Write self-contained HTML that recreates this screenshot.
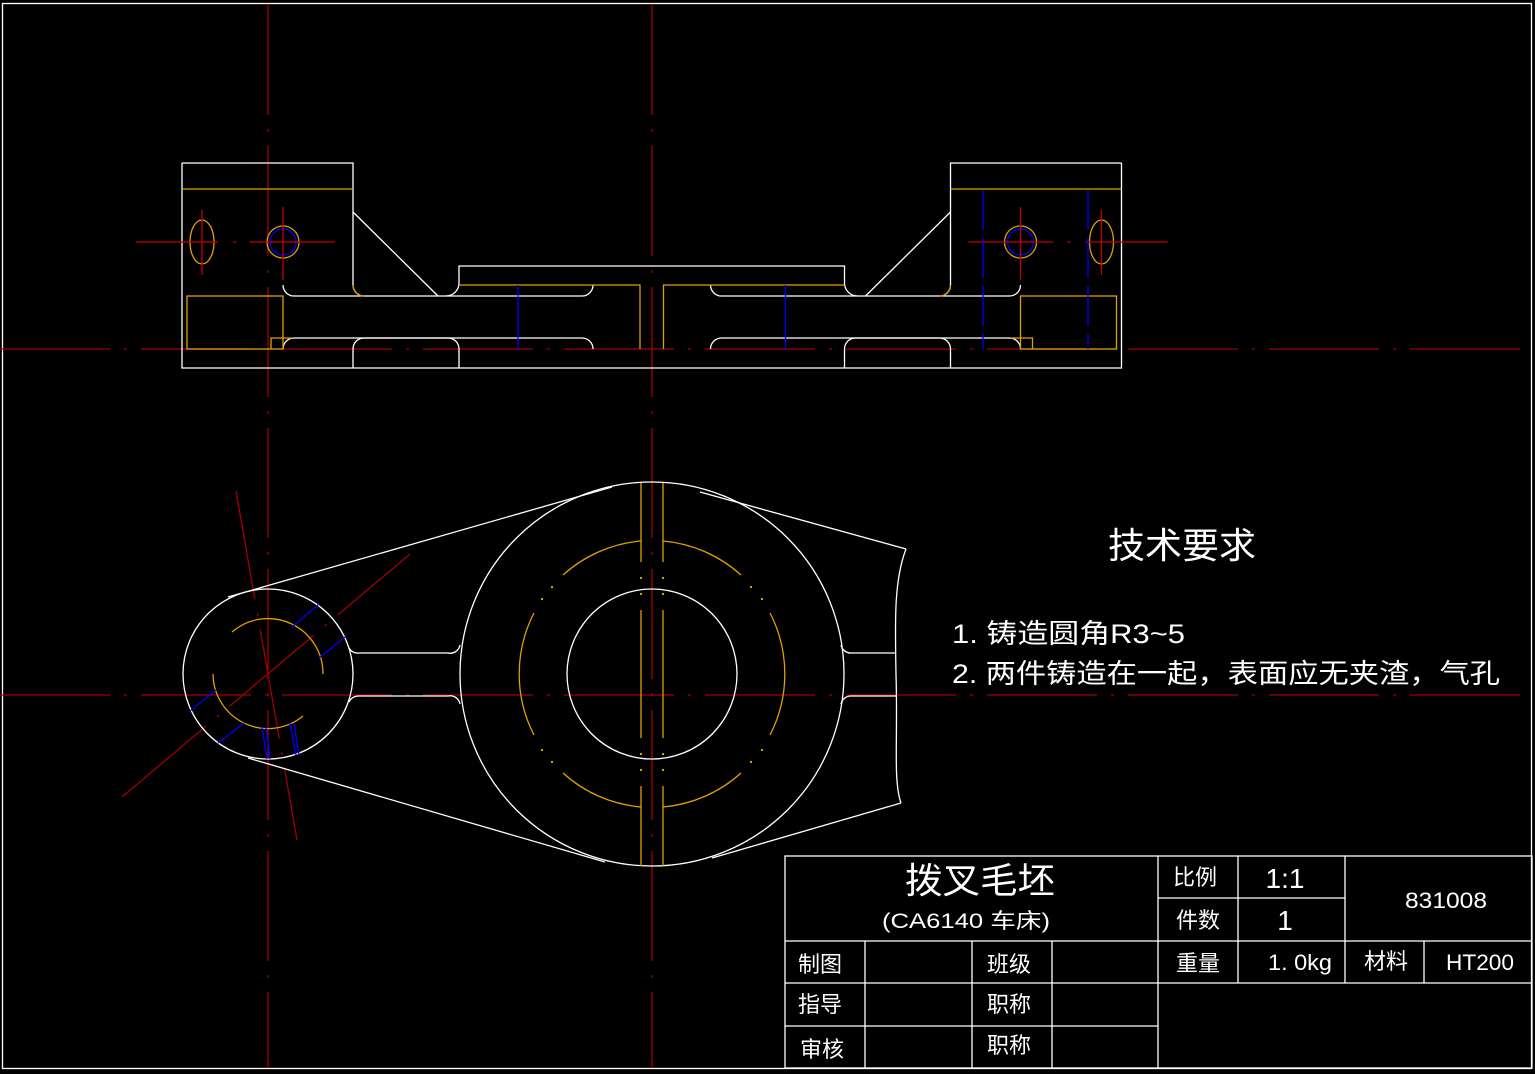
<!DOCTYPE html>
<html><head><meta charset="utf-8"><style>
html,body{margin:0;padding:0;background:#000;}
svg{display:block}
text{font-family:"Liberation Sans","Noto Sans CJK SC",sans-serif;fill:#fff}
</style></head><body>
<svg width="1535" height="1074" viewBox="0 0 1535 1074" xmlns="http://www.w3.org/2000/svg">
<rect width="1535" height="1074" fill="#000"/>
<rect x="2.5" y="3.5" width="1529" height="1065" fill="none" stroke="#fff" stroke-width="1.3"/>

<g stroke="#a00000" stroke-width="1.3" fill="none" stroke-dasharray="110,14,3,14">
<line x1="268" y1="5" x2="268" y2="1068"/>
<line x1="652" y1="5" x2="652" y2="1068"/>
<line x1="0" y1="349" x2="1532" y2="349"/>
<line x1="0" y1="695" x2="1532" y2="695"/>
<line x1="236" y1="491" x2="297" y2="840"/>
<line x1="122" y1="797" x2="410" y2="554"/>
</g>

<g id="half">
<g fill="none" stroke="#fff" stroke-width="1.3">
<path d="M182,163 H353 V285 A11,11 0 0 0 364,296"/>
<path d="M182,163 V368 H652"/>
<line x1="353" y1="212" x2="438" y2="296"/>
<path d="M283,285 A11,11 0 0 0 294,296 H582 A11,11 0 0 0 593,285"/>
<path d="M446,296 A13,13 0 0 0 459,283 V266 H652"/>
<path d="M283,349 A11,11 0 0 1 294,338 H582 A11,11 0 0 1 593,349"/>
<path d="M353,368 V349 A11,11 0 0 1 364,338 H448 A11,11 0 0 1 459,349 V368"/>
</g>
<g fill="none" stroke="#e0a000" stroke-width="1.3">
<line x1="182" y1="189" x2="353" y2="189"/>
<path d="M353,285 A11,11 0 0 0 364,296"/>
<path d="M459,285 H593 M593,285 H640 V349"/>
<rect x="187" y="296" width="96" height="53"/>
<path d="M271,349 V338 H293"/>
<ellipse cx="202" cy="242" rx="12" ry="22"/>
<circle cx="283" cy="242" r="16"/>
</g>
<circle cx="283" cy="242" r="13" fill="none" stroke="#0000ff" stroke-width="1.3"/>
<line x1="518" y1="285" x2="518" y2="349" stroke="#0000ff" stroke-width="1.3"/>
<g stroke="#c00000" stroke-width="1.3">
<line x1="136" y1="242" x2="218" y2="242"/><line x1="202" y1="210" x2="202" y2="275"/>
<line x1="250" y1="242" x2="335" y2="242"/><line x1="283" y1="207" x2="283" y2="280"/>
<line x1="233" y1="242" x2="236" y2="242"/>
</g>
</g>
<use href="#half" transform="translate(1303.5,0) scale(-1,1)"/>
<g stroke="#0000ff" stroke-width="1.3" stroke-dasharray="40,8">
<line x1="983" y1="190" x2="983" y2="349"/><line x1="1088" y1="190" x2="1088" y2="349"/>
</g>

<g fill="none" stroke="#fff" stroke-width="1.3">
<circle cx="652" cy="674" r="192"/>
<circle cx="652" cy="674" r="85"/>
<circle cx="268" cy="674" r="85"/>
<line x1="228" y1="597" x2="612" y2="487"/>
<line x1="248" y1="758" x2="605" y2="862"/>
<line x1="700" y1="492" x2="906" y2="549"/>
<line x1="712" y1="858" x2="901" y2="803"/>
<path d="M906,549 C894,580 895,620 896,674 C898,740 893,780 901,803"/>
<path d="M349,648 A10,10 0 0 0 359,653 H448 A10,10 0 0 0 460,645"/>
<path d="M349,702 A10,10 0 0 1 359,696 H448 A10,10 0 0 1 460,704"/>
<path d="M841,645 A10,10 0 0 0 851,653 H896"/>
<path d="M841,704 A10,10 0 0 1 851,696 H897"/>
</g>
<g fill="none" stroke="#e0a000" stroke-width="1.3">
<!-- r133 arcs: 48-85, -27..27 and mirrors -->
<path d="M741,575 A133,133 0 0 0 663,541"/>
<path d="M641,541 A133,133 0 0 0 563,575"/>
<path d="M770,613 A133,133 0 0 1 770,735"/>
<path d="M534,613 A133,133 0 0 0 534,735"/>
<path d="M741,773 A133,133 0 0 1 663,807"/>
<path d="M641,807 A133,133 0 0 1 563,773"/>
<path d="M641,483 V562 M663,483 V562 M641,610 V738 M663,610 V738 M641,786 V866 M663,786 V866"/>
<path d="M323,674 A55,55 0 0 0 232,632"/>
<path d="M213,674 A55,55 0 0 0 303,716"/>
</g>
<g fill="#e0a000">
<rect x="640" y="577" width="2" height="2"/><rect x="662" y="577" width="2" height="2"/>
<rect x="640" y="593" width="2" height="2"/><rect x="662" y="593" width="2" height="2"/>
<rect x="640" y="753" width="2" height="2"/><rect x="662" y="753" width="2" height="2"/>
<rect x="640" y="769" width="2" height="2"/><rect x="662" y="769" width="2" height="2"/>
<rect x="750" y="586" width="2" height="2"/><rect x="761" y="598" width="2" height="2"/>
<rect x="551" y="586" width="2" height="2"/><rect x="541" y="598" width="2" height="2"/>
<rect x="750" y="761" width="2" height="2"/><rect x="761" y="749" width="2" height="2"/>
<rect x="551" y="761" width="2" height="2"/><rect x="541" y="749" width="2" height="2"/>
</g>
<g stroke="#0000ff" stroke-width="1.3">
<line x1="292" y1="627" x2="318" y2="605"/>
<line x1="319" y1="658" x2="345" y2="637"/>
<line x1="190" y1="711" x2="216" y2="690"/>
<line x1="218" y1="743" x2="244" y2="723"/>
<line x1="262" y1="727" x2="267" y2="759"/>
<line x1="266" y1="727" x2="270" y2="759"/>
<line x1="290" y1="723" x2="296" y2="755"/>
<line x1="294" y1="723" x2="299" y2="755"/>
</g>

<text x="1108" y="558" font-size="36" textLength="148" lengthAdjust="spacingAndGlyphs">技术要求</text>
<text x="952" y="643" font-size="27" textLength="233" lengthAdjust="spacingAndGlyphs">1. 铸造圆角R3~5</text>
<text x="952" y="683" font-size="27" textLength="548" lengthAdjust="spacingAndGlyphs">2. 两件铸造在一起，表面应无夹渣，气孔</text>

<g fill="none" stroke="#fff" stroke-width="1.3">
<rect x="785" y="856" width="747" height="212"/>
<line x1="785" y1="941" x2="1532" y2="941"/>
<line x1="785" y1="983" x2="1532" y2="983"/>
<line x1="785" y1="1026" x2="1158" y2="1026"/>
<line x1="1158" y1="898" x2="1345" y2="898"/>
<line x1="1158" y1="856" x2="1158" y2="1068"/>
<line x1="1238" y1="856" x2="1238" y2="983"/>
<line x1="1345" y1="856" x2="1345" y2="983"/>
<line x1="1424" y1="941" x2="1424" y2="983"/>
<line x1="865" y1="941" x2="865" y2="1068"/>
<line x1="972" y1="941" x2="972" y2="1068"/>
<line x1="1052" y1="941" x2="1052" y2="1068"/>
</g>
<text x="905" y="893" font-size="36" textLength="150" lengthAdjust="spacingAndGlyphs">拨叉毛坯</text>
<text x="882" y="928" font-size="21" textLength="168" lengthAdjust="spacingAndGlyphs">(CA6140 车床)</text>
<g font-size="22">
<text x="1173" y="885">比例</text>
<text x="1176" y="928">件数</text>
<text x="1176" y="971">重量</text>
<text x="1364" y="969">材料</text>
<text x="798" y="972">制图</text>
<text x="798" y="1012">指导</text>
<text x="800" y="1057">审核</text>
<text x="987" y="972">班级</text>
<text x="987" y="1012">职称</text>
<text x="987" y="1053">职称</text>
</g>
<text x="1285" y="888" font-size="28" text-anchor="middle">1:1</text>
<text x="1285" y="930" font-size="28" text-anchor="middle">1</text>
<text x="1405" y="908" font-size="22" textLength="82" lengthAdjust="spacingAndGlyphs">831008</text>
<text x="1268" y="970" font-size="22" textLength="64" lengthAdjust="spacingAndGlyphs">1. 0kg</text>
<text x="1446" y="970" font-size="22" textLength="68" lengthAdjust="spacingAndGlyphs">HT200</text>
</svg>
</body></html>
